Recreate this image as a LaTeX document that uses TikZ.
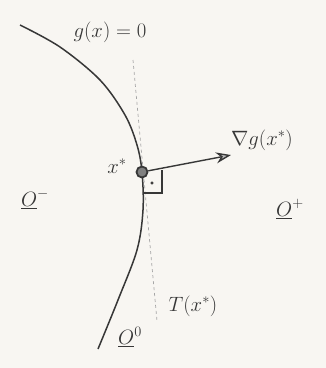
\documentclass[tikz,border=0pt]{standalone}
\usetikzlibrary{arrows.meta}
\definecolor{pencil}{RGB}{55,55,55}
\definecolor{paper}{RGB}{248,246,242}

\begin{document}
\begin{tikzpicture}[>=Stealth, x=1pt, y=-1pt, font=\huge, text=pencil]
	% Hộp giới hạn và nền giấy
	\fill[paper] (0,0) rectangle (326,368);
	\useasboundingbox (0,0) rectangle (326,368);
	
	% 1. Vẽ đường cong g(x)=0
	\draw[pencil, line width=1.5pt] plot[smooth, tension=0.55] coordinates
	{(20,25) (60,47) (100,80) (125,115) (137,145) (142,172) (143,210) (137,250) (118,300) (98,349)};
	
	% 2. Tiếp tuyến T(x*) (nét đứt)
	\coordinate (ttop) at (133,60);
	\coordinate (tbot) at (157,321);
	\draw[dashed, gray!70, line width=0.7pt] (ttop) -- (tbot);
	
	% 3. Điểm x* và vectơ gradient
	\node[circle, draw=pencil, fill=gray, line width=1.8pt, minimum size=11pt, inner sep=0pt] (xstar) at (142,172) {};
	\coordinate (gradtip) at (231,155);
	\draw[->, pencil, line width=1.4pt, arrows={-Stealth[length=15pt, width=11pt, open, fill=gray!50]}] (xstar) -- (gradtip);
	
	% Dấu góc vuông
	\draw[pencil, line width=1.1pt] (143,193) -- (162,193) -- (162,170);
	\filldraw[pencil] (152,183) circle (1.4pt);
	
	% 4. Nhãn
	\node (glabel) at (110,32) {$g(x)=0$};
	\node (gradlabel) at (262,140) {$\nabla g(x^*)$};
	\node (xlabel) at (117,166) {$x^*$};
	\node (ominus) at (35,199) {$\underline{O}^-$};
	\node (oplus) at (290,209) {$\underline{O}^+$};
	\node (ozero) at (130,337) {$\underline{O}^0$};
	\node (tlabel) at (193,306) {$T(x^*)$};
	
\end{tikzpicture}
\end{document}
